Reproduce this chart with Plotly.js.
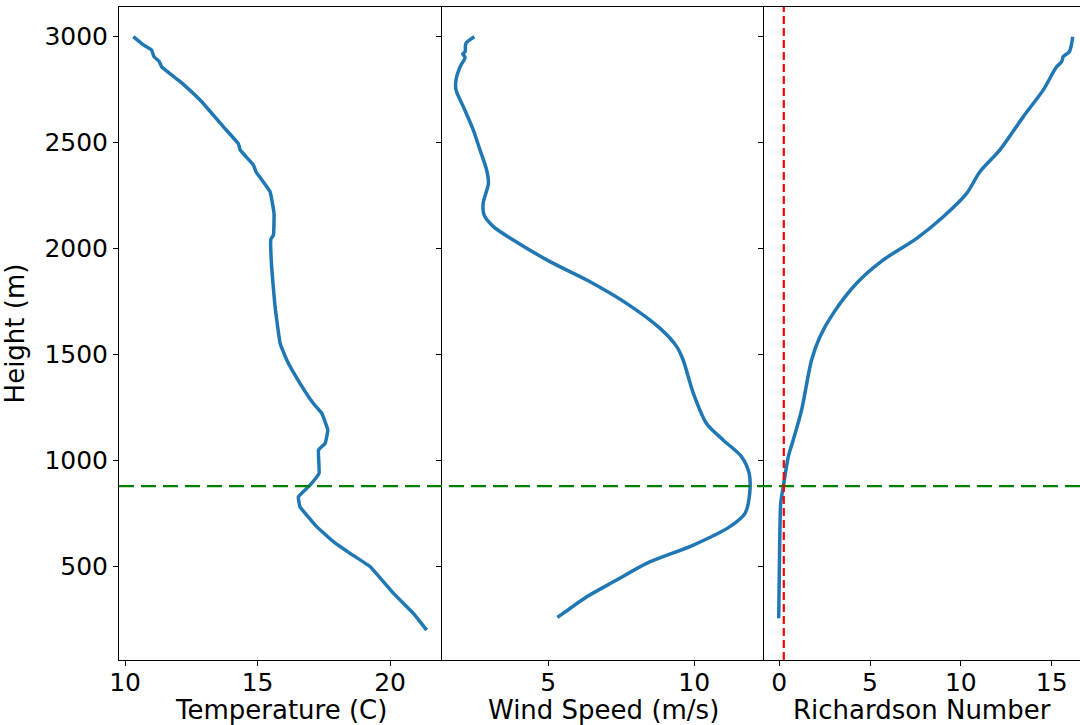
<!DOCTYPE html>
<html>
<head>
<meta charset="utf-8">
<script src="https://cdn.plot.ly/plotly-3.0.1.min.js"></script>
<style>html,body{margin:0;padding:0;background:#fff;overflow:hidden}</style>
</head>
<body>
<div id="chart" style="width:1080px;height:725px"></div>
<script>
// Temperature profile
const tempHeight = [3000,2961,2937,2906,2882,2858,2788,2701,2575,2494,2466,2395,2363,2269,2167,2065,2044,1915,1726,1554,1475,1365,1271,1224,1145,1082,1050,941,885,830,783,689,618,563,500,374,280,241,201];
const tempValue  = [10.31,10.69,11.0,11.09,11.29,11.38,12.08,12.83,13.71,14.28,14.34,14.84,14.94,15.47,15.62,15.6,15.5,15.53,15.66,15.85,16.1,16.6,17.1,17.42,17.65,17.55,17.3,17.32,16.98,16.54,16.6,17.23,17.86,18.49,19.25,20.13,20.88,21.13,21.38];

// Wind speed profile
const windHeight = [3000,2969,2929,2918,2903,2858,2796,2749,2670,2560,2466,2371,2308,2214,2159,2104,2041,1939,1852,1742,1624,1538,1475,1318,1176,1098,1019,941,846,752,689,602,516,437,358,280,261];
const windValue  = [2.47,2.18,2.15,2.07,2.15,1.98,1.84,1.84,2.09,2.43,2.66,2.89,2.95,2.77,2.8,3.12,3.8,5.06,6.32,7.68,8.83,9.4,9.62,9.97,10.42,10.99,11.62,11.88,11.9,11.74,11.22,9.97,8.37,7.34,6.32,5.51,5.31];

// Richardson number profile
const riHeight = [3000,2929,2906,2882,2858,2749,2623,2466,2363,2261,2151,2049,1947,1837,1695,1585,1475,1239,1098,1019,877,799,689,453,257];
const riValue  = [16.16,15.97,15.64,15.55,15.27,14.54,13.44,12.15,11.05,10.32,9.03,7.57,5.73,4.26,2.97,2.24,1.78,1.23,0.77,0.5,0.22,0.08,0.04,0.0,-0.03];

// Axis titles
const xTitles = ['Temperature (C)', 'Wind Speed (m/s)', 'Richardson Number'];
const yTitle = 'Height (m)';

// Reference lines
const boundaryHeight = 880;   // green dashed
const criticalRi = 0.25;      // red dashed

const blue = '#1f77b4';
const tickFont = {family: 'DejaVu Sans, sans-serif', size: 25, color: '#000'};
const titleFont = {family: 'DejaVu Sans, sans-serif', size: 26, color: '#000'};

const traces = [
  {x: tempValue, y: tempHeight, xaxis: 'x', yaxis: 'y', mode: 'lines',
   line: {color: blue, width: 3.5, shape: 'spline', smoothing: 0.3}, hoverinfo: 'skip'},
  {x: windValue, y: windHeight, xaxis: 'x2', yaxis: 'y2', mode: 'lines',
   line: {color: blue, width: 3.5, shape: 'spline', smoothing: 0.8}, hoverinfo: 'skip'},
  {x: riValue, y: riHeight, xaxis: 'x3', yaxis: 'y3', mode: 'lines',
   line: {color: blue, width: 3.5, shape: 'spline', smoothing: 0.8}, hoverinfo: 'skip'}
];

// plot area: x 119..1080 (961 px), y 7..660 (653 px)
const W = 961, H = 653, B = 65;
const d1 = [0, 323/W], d2 = [323/W, 645/W], d3 = [645/W, 1];

function xax(domain, range, tickvals, anchor) {
  return {domain: domain, range: range, tickvals: tickvals, anchor: anchor,
    showline: true, mirror: true, linecolor: '#000', linewidth: 1,
    ticks: 'outside', ticklen: 5, tickcolor: '#000', showgrid: false, zeroline: false,
    automargin: false, ticklabelstandoff: -5,
    tickfont: tickFont};
}
function yax(anchor, labels, mirror, title) {
  const a = {domain: [0, 1], range: [60, 3140], anchor: anchor, tickvals: [500,1000,1500,2000,2500,3000],
    showline: true, mirror: mirror, linecolor: '#000', linewidth: 1,
    ticks: 'outside', ticklen: 5, tickcolor: '#000', showgrid: false, zeroline: false,
    automargin: false,
    showticklabels: labels, tickfont: tickFont};
  if (title) a.title = {text: title, font: titleFont, standoff: 12};
  return a;
}

const annotations = xTitles.map((t, i) => ({
  text: t, font: titleFont, showarrow: false,
  xref: (i === 0 ? 'x' : 'x' + (i + 1)) + ' domain', x: 0.5, xanchor: 'center',
  yref: 'paper', y: -B / H, yanchor: 'bottom', yshift: -2
}));

const layout = {
  width: 1080, height: 725,
  margin: {l: 119, r: 0, t: 7, b: B},
  paper_bgcolor: '#fff', plot_bgcolor: '#fff',
  showlegend: false,
  font: tickFont,
  xaxis: xax(d1, [9.77, 21.96], [10,15,20], 'y'),
  xaxis2: xax(d2, [1.36, 12.39], [5,10], 'y2'),
  xaxis3: xax(d3, [-0.84, 16.56], [0,5,10,15], 'y3'),
  yaxis: yax('x', true, false, yTitle),
  yaxis2: Object.assign(yax('x2', false, false), {matches: 'y'}),
  yaxis3: Object.assign(yax('x3', false, true), {matches: 'y'}),
  annotations: annotations,
  shapes: [
    {type: 'line', xref: 'paper', yref: 'y', x0: 0, x1: 1, y0: boundaryHeight, y1: boundaryHeight,
     line: {color: '#008000', width: 2.2, dash: '15px,7px'}, layer: 'above'},
    {type: 'line', xref: 'x3', yref: 'paper', x0: criticalRi, x1: criticalRi, y0: 0, y1: 1,
     line: {color: '#ff0000', width: 2.2, dash: '8px,4px'}, layer: 'above'}
  ]
};

Plotly.newPlot('chart', traces, layout, {displayModeBar: false, staticPlot: true});
</script>
</body>
</html>
